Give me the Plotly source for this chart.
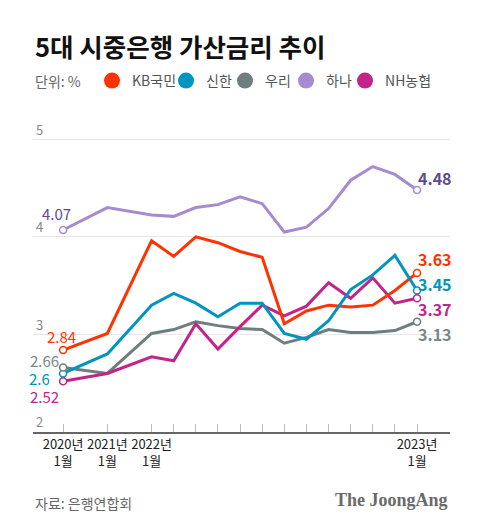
import plotly.graph_objects as go

# monthly lending spread add-on rates (%)
months = ['2020-01', '2021-01', '2022-01', '2022-02', '2022-03', '2022-04', '2022-05',
          '2022-06', '2022-07', '2022-08', '2022-09', '2022-10', '2022-11', '2022-12',
          '2023-01']
tick_text = ['2020년<br>1월', '2021년<br>1월', '2022년<br>1월'] + [''] * 11 + ['2023년<br>1월']

kb = [2.84, 3.01, 3.96, 3.80, 4.00, 3.94, 3.85, 3.79, 3.11, 3.24, 3.30, 3.28, 3.30, 3.45, 3.63]
shinhan = [2.60, 2.80, 3.30, 3.42, 3.32, 3.18, 3.32, 3.32, 3.01, 2.95, 3.14, 3.46, 3.61, 3.81, 3.45]
woori = [2.66, 2.60, 3.01, 3.05, 3.13, 3.09, 3.06, 3.05, 2.91, 2.97, 3.05, 3.02, 3.02, 3.04, 3.13]
hana = [4.07, 4.30, 4.225, 4.21, 4.30, 4.33, 4.41, 4.34, 4.05, 4.10, 4.29, 4.58, 4.72, 4.64, 4.48]
nh = [2.52, 2.60, 2.77, 2.73, 3.11, 2.85, 3.08, 3.30, 3.19, 3.29, 3.53, 3.37, 3.58, 3.32, 3.37]

# the first two points are a year apart, the rest monthly
xpos = [0, 2] + list(range(4, 4 + len(months) - 2))

FONT = 'Noto Sans CJK KR'

# name, values, line colour, label colour, (first label xshift, yshift), last label yshift, legend step
series = [
    ('KB국민', kb, '#ff3300', '#ff3300', (15, 14), 14, 29),
    ('신한', shinhan, '#0095c0', '#0095c0', (-11, -5), 7, 14),
    ('우리', woori, '#6e7e7e', '#7a8888', (-2, 7.5), -12, 16),
    ('하나', hana, '#a58bd0', '#5c4a93', (10, 17), 12.5, 14),
    ('NH농협', nh, '#c2248a', '#c2248a', (-2, -15.5), -10, 50),
]
draw_order = ['하나', '우리', 'NH농협', 'KB국민', '신한']

fig = go.Figure()
lookup = {s[0]: s for s in series}
for name in draw_order:
    _, vals, color, _, _, _, _ = lookup[name]
    fig.add_trace(go.Scatter(x=xpos, y=vals, mode='lines', showlegend=False,
                             line=dict(color=color, width=3), hoverinfo='skip'))

annotations = []
for name, vals, color, lab_color, first_off, last_dy, step in series:
    # open circles on the first and last month
    fig.add_trace(go.Scatter(x=[xpos[0], xpos[-1]], y=[vals[0], vals[-1]], mode='markers',
                             showlegend=False, hoverinfo='skip',
                             marker=dict(size=7, color='white',
                                         line=dict(color=color, width=1.5))))
    # legend entry
    fig.add_trace(go.Scatter(x=[None], y=[None], mode='markers', name=name,
                             legendwidth=step,
                             marker=dict(size=16, color=color)))
    annotations.append(dict(x=xpos[0], y=vals[0], xref='x', yref='y', text=f'{vals[0]:g}',
                            showarrow=False, xanchor='right', yanchor='middle',
                            xshift=first_off[0], yshift=first_off[1], height=15,
                            font=dict(size=15, color=lab_color, family=FONT)))
    annotations.append(dict(x=xpos[-1], y=vals[-1], xref='x', yref='y',
                            text=f'<b>{vals[-1]:g}</b>',
                            showarrow=False, xanchor='left', yanchor='middle',
                            xshift=-1, yshift=last_dy, height=17,
                            font=dict(size=16, color=lab_color, family=FONT)))

annotations += [
    dict(x=0, y=1.2, xref='paper', yref='paper', xanchor='left', yanchor='middle',
         text='<b>5대 시중은행 가산금리 추이</b>', showarrow=False,
         font=dict(size=25.5, color='#111111', family=FONT)),
    dict(x=0, y=1.09, xref='paper', yref='paper', xanchor='left', yanchor='middle',
         text='단위: %', showarrow=False,
         font=dict(size=14, color='#666666', family=FONT)),
    dict(x=0, y=-0.22, xref='paper', yref='paper', xanchor='left', yanchor='middle',
         text='자료: 은행연합회', showarrow=False,
         font=dict(size=14, color='#666666', family=FONT)),
    dict(x=1, y=-0.21, xref='paper', yref='paper', xanchor='right', yanchor='middle',
         text='<b>The JoongAng</b>', showarrow=False,
         font=dict(size=18, color='#6a6a6a', family='Liberation Serif')),
]

# the page keeps an 8px body margin, so the figure is 8px smaller than the window
fig.update_layout(
    width=472, height=521,
    margin=dict(l=25, r=30, t=102, b=97),
    plot_bgcolor='white', paper_bgcolor='white',
    font=dict(family=FONT, color='#333333'),
    legend=dict(orientation='h', x=0.1415, xanchor='left', y=1.09, yanchor='middle',
                font=dict(size=14, color='#555555', family=FONT),
                bgcolor='rgba(0,0,0,0)', itemclick=False),
    annotations=annotations,
)
fig.update_xaxes(range=[-1.36, 17.49], tickvals=xpos, ticktext=tick_text, tickangle=0,
                 automargin=False, showgrid=False, zeroline=False, showline=True,
                 linecolor='#666666', linewidth=1.5,
                 ticks='inside', ticklen=8, tickcolor='#bbbbbb', tickwidth=1,
                 tickfont=dict(size=13, color='#222222', family=FONT))
fig.update_yaxes(range=[2, 5.3], tickvals=[2, 3, 4, 5], ticktext=['2', '3', '4', '5'],
                 automargin=False, ticklabelposition='inside top', showgrid=True,
                 gridcolor='#e6e6e6', gridwidth=1, zeroline=False, showline=False,
                 tickfont=dict(size=13, color='#888888', family=FONT))

fig.write_html('out.html')
